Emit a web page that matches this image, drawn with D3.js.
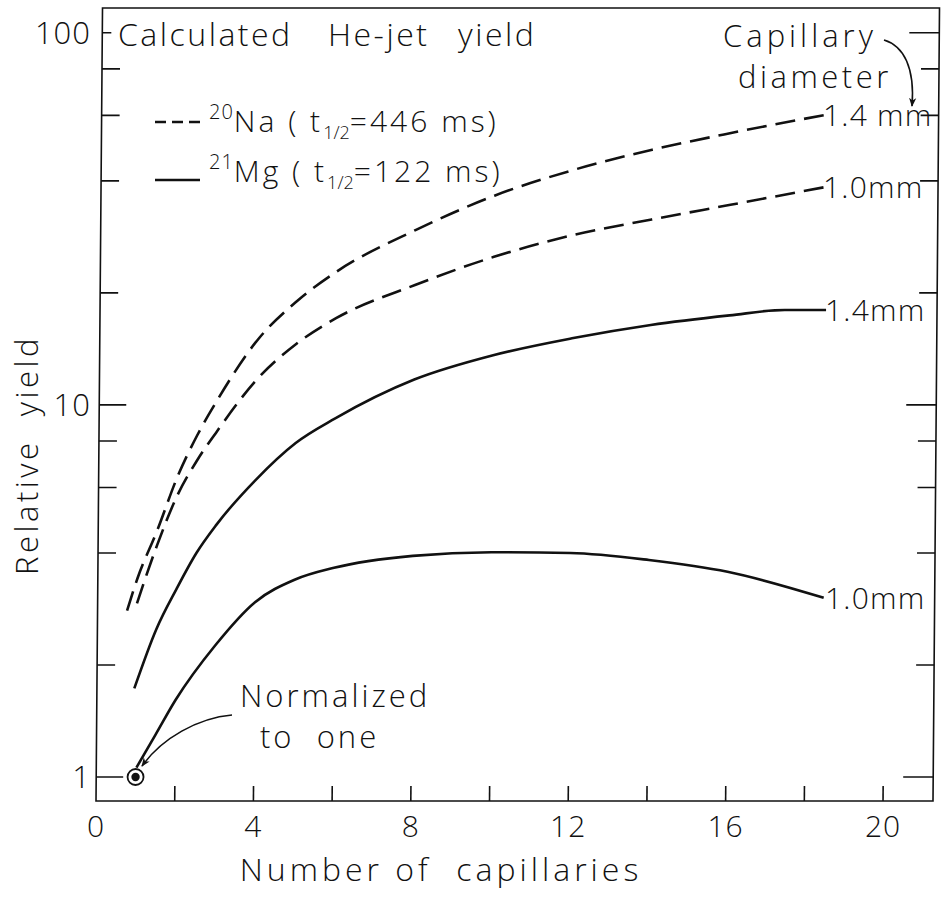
<!DOCTYPE html>
<html>
<head>
<meta charset="utf-8">
<script src="https://cdn.jsdelivr.net/npm/d3@7"></script>
<style>
  body { margin: 0; background: #fff; }
  svg { display: block; background: #fff; }
  text { font-family: "Open Sans", "DejaVu Sans", sans-serif; font-weight: 300; fill: #111; }
</style>
</head>
<body>
<svg id="chart" width="943" height="901"></svg>
<script>
// Axis ticks
const xTickLabels = [0, 4, 8, 12, 16, 20];
const xTickMarks = [2, 4, 6, 8, 10, 12, 14, 16, 18, 20];
const yMajorTicks = [1, 10, 100];
const yMinorTicks = [2, 4, 6, 8, 20, 40, 60, 80];

// 20Na, 1.4 mm capillary (dashed)
const naWideN = [0.75, 1, 1.5, 2, 2.5, 3, 4, 5, 6, 8, 10, 12, 14, 16, 18.4];
const naWideYield = [2.8, 3.4, 4.6, 6.4, 8.3, 10.3, 14.9, 19, 22.8, 29.5, 36.5, 42.8, 48.5, 53.8, 60.2];

// 20Na, 1.0 mm capillary (dashed)
const naNarrowN = [1, 1.5, 2, 2.5, 3, 4, 5, 6, 8, 10, 12, 14, 16, 18.4];
const naNarrowYield = [2.93, 4.2, 5.7, 7.1, 8.5, 11.7, 14.6, 17.1, 21, 25, 28.6, 31.5, 34.5, 38.5];

// 21Mg, 1.4 mm capillary (solid)
const mgWideN = [0.95, 1.5, 2, 2.5, 3, 4, 5, 6, 8, 10, 12, 14, 16, 17.4, 18.45];
const mgWideYield = [1.73, 2.5, 3.2, 4.0, 4.76, 6.3, 7.9, 9.2, 11.7, 13.6, 15.1, 16.4, 17.4, 18.0, 18.0];

// 21Mg, 1.0 mm capillary (solid)
const mgNarrowN = [1.02, 1.5, 2, 3, 4, 5, 6, 8, 10, 12, 14, 16, 18.45];
const mgNarrowYield = [1.06, 1.3, 1.61, 2.26, 2.95, 3.39, 3.65, 3.93, 4.02, 4.0, 3.83, 3.56, 3.03];

// Reference point: one capillary, yield normalized to one
const normPoint = [1, 1];

const svg = d3.select("#chart");
const frameLeft = 96, frameRight = 933, frameTop = 8, frameBottom = 801;

const x = d3.scaleLinear().domain([0, 21.27]).range([frameLeft, frameRight]);
const y = d3.scaleLog().domain([0.862, 116.6]).range([frameBottom, frameTop]);

const defs = svg.append("defs");
defs.append("marker")
  .attr("id", "head")
  .attr("viewBox", "0 0 10 10")
  .attr("refX", 9).attr("refY", 5)
  .attr("markerWidth", 9).attr("markerHeight", 9)
  .attr("markerUnits", "userSpaceOnUse")
  .attr("orient", "auto")
  .append("path").attr("d", "M0,1 L10,5 L0,9 L3,5 Z").attr("fill", "#111");

// plotting frame, slightly sheared like the drafted original
const plot = svg.append("g")
  .attr("transform", `translate(0,${frameBottom}) skewX(-0.47) translate(0,${-frameBottom})`);

plot.append("rect")
  .attr("x", frameLeft).attr("y", frameTop)
  .attr("width", frameRight - frameLeft).attr("height", frameBottom - frameTop)
  .attr("fill", "none").attr("stroke", "#111").attr("stroke-width", 1.6);

// bottom ticks
plot.selectAll(".xt").data(xTickMarks).join("line")
  .attr("x1", d => x(d)).attr("x2", d => x(d))
  .attr("y1", frameBottom).attr("y2", frameBottom - 15)
  .attr("stroke", "#111").attr("stroke-width", 1.6);

// left & right ticks
const tickLen = d => (d === 100 ? 9 : (yMajorTicks.includes(d) ? 27 : 18));
const allY = yMajorTicks.concat(yMinorTicks);
plot.selectAll(".yl").data(allY).join("line")
  .attr("x1", frameLeft).attr("x2", d => frameLeft + tickLen(d))
  .attr("y1", d => y(d)).attr("y2", d => y(d))
  .attr("stroke", "#111").attr("stroke-width", 1.6);
plot.selectAll(".yr").data(allY).join("line")
  .attr("x1", frameRight).attr("x2", d => frameRight - (yMajorTicks.includes(d) ? 30 : 18))
  .attr("y1", d => y(d)).attr("y2", d => y(d))
  .attr("stroke", "#111").attr("stroke-width", 1.6);

// curves
const line = d3.line().x(d => x(d[0])).y(d => y(d[1])).curve(d3.curveMonotoneX);
const series = [
  { n: naWideN, v: naWideYield, dash: "20,9" },
  { n: naNarrowN, v: naNarrowYield, dash: "20,9" },
  { n: mgWideN, v: mgWideYield, dash: null },
  { n: mgNarrowN, v: mgNarrowYield, dash: null }
];
plot.selectAll(".curve").data(series).join("path")
  .attr("d", s => line(s.n.map((n, i) => [n, s.v[i]])))
  .attr("fill", "none").attr("stroke", "#111").attr("stroke-width", 2.6)
  .attr("stroke-dasharray", s => s.dash);

// normalization marker
plot.append("circle")
  .attr("cx", x(normPoint[0])).attr("cy", y(normPoint[1])).attr("r", 8)
  .attr("fill", "#fff").attr("stroke", "#111").attr("stroke-width", 1.8);
plot.append("circle")
  .attr("cx", x(normPoint[0])).attr("cy", y(normPoint[1])).attr("r", 4.2)
  .attr("fill", "#111");

// tick labels
svg.selectAll(".xl").data(xTickLabels).join("text")
  .attr("x", d => x(d)).attr("y", 837)
  .attr("text-anchor", "middle").attr("font-size", 30).attr("letter-spacing", 1)
  .text(d => d);
svg.selectAll(".yll").data(yMajorTicks).join("text")
  .attr("x", 91).attr("y", d => y(d) + 11)
  .attr("text-anchor", "end").attr("font-size", 31).attr("letter-spacing", 1)
  .text(d => d);

// axis titles
svg.append("text")
  .attr("x", 441).attr("y", 881)
  .attr("text-anchor", "middle").attr("font-size", 32).attr("letter-spacing", 4)
  .attr("xml:space", "preserve")
  .text("Number of  capillaries");
svg.append("text")
  .attr("transform", "translate(38,455) rotate(-90)")
  .attr("text-anchor", "middle").attr("font-size", 31).attr("letter-spacing", 3.5)
  .attr("xml:space", "preserve")
  .text("Relative  yield");

// title, word by word
const title = svg.append("text").attr("y", 46).attr("font-size", 32).attr("letter-spacing", 2.5);
title.append("tspan").attr("x", 118).text("Calculated");
title.append("tspan").attr("x", 328).text("He-jet");
title.append("tspan").attr("x", 458).text("yield");

// legend
const legend = [
  { mass: "20", el: "Na", half: "=446 ms)", dash: "11,6", yLine: 122, yText: 132 },
  { mass: "21", el: "Mg", half: "=122 ms)", dash: null, yLine: 180, yText: 182 }
];
legend.forEach(L => {
  svg.append("line")
    .attr("x1", 155).attr("x2", 200).attr("y1", L.yLine).attr("y2", L.yLine)
    .attr("stroke", "#111").attr("stroke-width", 2.4)
    .attr("stroke-dasharray", L.dash);
  const t = svg.append("text").attr("x", 209).attr("y", L.yText).attr("font-size", 30)
    .attr("letter-spacing", 3).attr("xml:space", "preserve");
  t.append("tspan").attr("font-size", 20).attr("letter-spacing", 1).attr("dy", -13).text(L.mass);
  t.append("tspan").attr("dy", 13).text(L.el + " ( t");
  t.append("tspan").attr("font-size", 18).attr("dy", 7).attr("letter-spacing", 0).text("1/2");
  t.append("tspan").attr("dy", -7).text(L.half);
});

// capillary diameter labels at curve ends
const endLabels = [
  { s: 0, text: "1.4 mm" },
  { s: 1, text: "1.0mm" },
  { s: 2, text: "1.4mm" },
  { s: 3, text: "1.0mm" }
];
endLabels.forEach(e => {
  const s = series[e.s];
  const last = s.n.length - 1;
  svg.append("text")
    .attr("x", x(s.n[last]) + 3).attr("y", y(s.v[last]) + 11)
    .attr("font-size", 30).attr("letter-spacing", 1.2)
    .attr("xml:space", "preserve")
    .text(e.text);
});

svg.append("text").attr("x", 723).attr("y", 47).attr("font-size", 31).attr("letter-spacing", 4).text("Capillary");
svg.append("text").attr("x", 738).attr("y", 88).attr("font-size", 31).attr("letter-spacing", 3.5).text("diameter");
svg.append("path")
  .attr("d", "M884,40 C904,46 915,68 912,106")
  .attr("fill", "none").attr("stroke", "#111").attr("stroke-width", 1.6)
  .attr("marker-end", "url(#head)");

// normalization note
svg.append("text").attr("x", 240).attr("y", 707).attr("font-size", 31).attr("letter-spacing", 3).text("Normalized");
svg.append("text").attr("x", 260).attr("y", 748).attr("font-size", 31).attr("letter-spacing", 3)
  .attr("xml:space", "preserve").text("to  one");
svg.append("path")
  .attr("d", "M232,715 C198,718 162,738 142,766")
  .attr("fill", "none").attr("stroke", "#111").attr("stroke-width", 1.6)
  .attr("marker-end", "url(#head)");
</script>
</body>
</html>
